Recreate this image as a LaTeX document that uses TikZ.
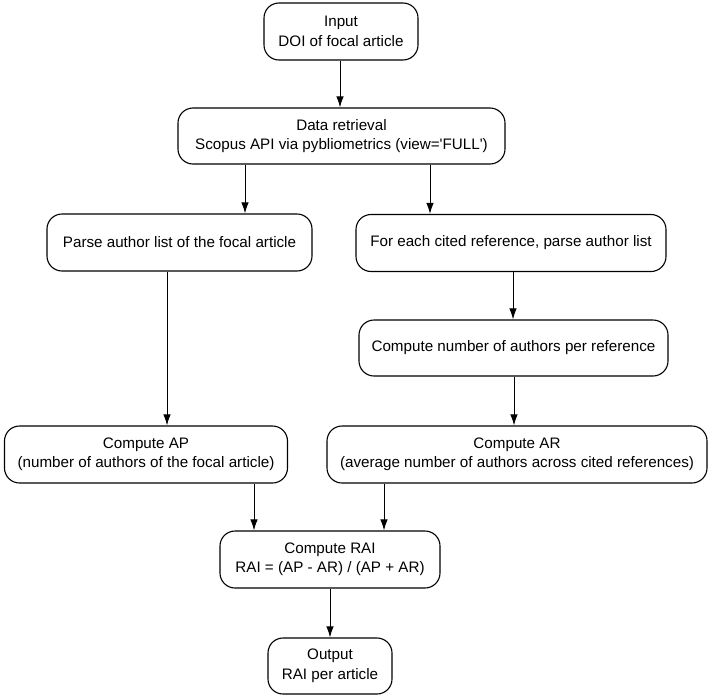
\documentclass[tikz,border=0pt]{standalone}
\usepackage{fontspec}
\setmainfont{Liberation Sans}
\usetikzlibrary{arrows.meta}
\begin{document}
\begin{tikzpicture}[x=1pt,y=-1pt,
  box/.style={draw, line width=1.1pt, rounded corners=15pt, align=center, inner sep=0pt,
    font=\fontsize{15.2}{19.5}\selectfont, minimum height=57pt},
  arr/.style={line width=1pt, -{Latex[length=11pt,width=7.5pt]}}]
\useasboundingbox (0,0) rectangle (709,696);
\node[box, minimum width=154pt] (in) at (341,31.5) {Input\\DOI of focal article};
\node[box, minimum width=327pt, minimum height=56pt] (dr) at (341.5,136) {Data retrieval\\Scopus API via pybliometrics (view=\textquotesingle FULL\textquotesingle)};
\node[box, minimum width=265pt] (pa) at (179.5,242.5) {Parse author list of the focal article};
\node[box, minimum width=310pt] (fe) at (511,243) {For each cited reference, parse author list};
\node[box, minimum width=309pt, minimum height=56pt] (cn) at (513.5,348) {Compute number of authors per reference};
\node[box, minimum width=283pt] (ap) at (146,454.5) {Compute AP\\(number of authors of the focal article)};
\node[box, minimum width=380pt] (ar) at (517,454.5) {Compute AR\\(average number of authors across cited references)};
\node[box, minimum width=220pt] (rai) at (330,559.5) {Compute RAI\\RAI = (AP - AR) / (AP + AR)};
\node[box, minimum width=124pt, minimum height=56pt] (out) at (330,666) {Output\\RAI per article};
\draw[arr] (in.south -| 340,0) -- (dr.north -| 340,0);
\draw[arr] (dr.south -| 245,0) -- (pa.north -| 245,0);
\draw[arr] (dr.south -| 430,0) -- (fe.north -| 430,0);
\draw[arr] (pa.south -| 167,0) -- (ap.north -| 167,0);
\draw[arr] (fe.south -| 513,0) -- (cn.north -| 513,0);
\draw[arr] (cn.south -| 514,0) -- (ar.north -| 514,0);
\draw[arr] (ap.south -| 254,0) -- (rai.north -| 254,0);
\draw[arr] (ar.south -| 384,0) -- (rai.north -| 384,0);
\draw[arr] (rai) -- (out);
\end{tikzpicture}
\end{document}
